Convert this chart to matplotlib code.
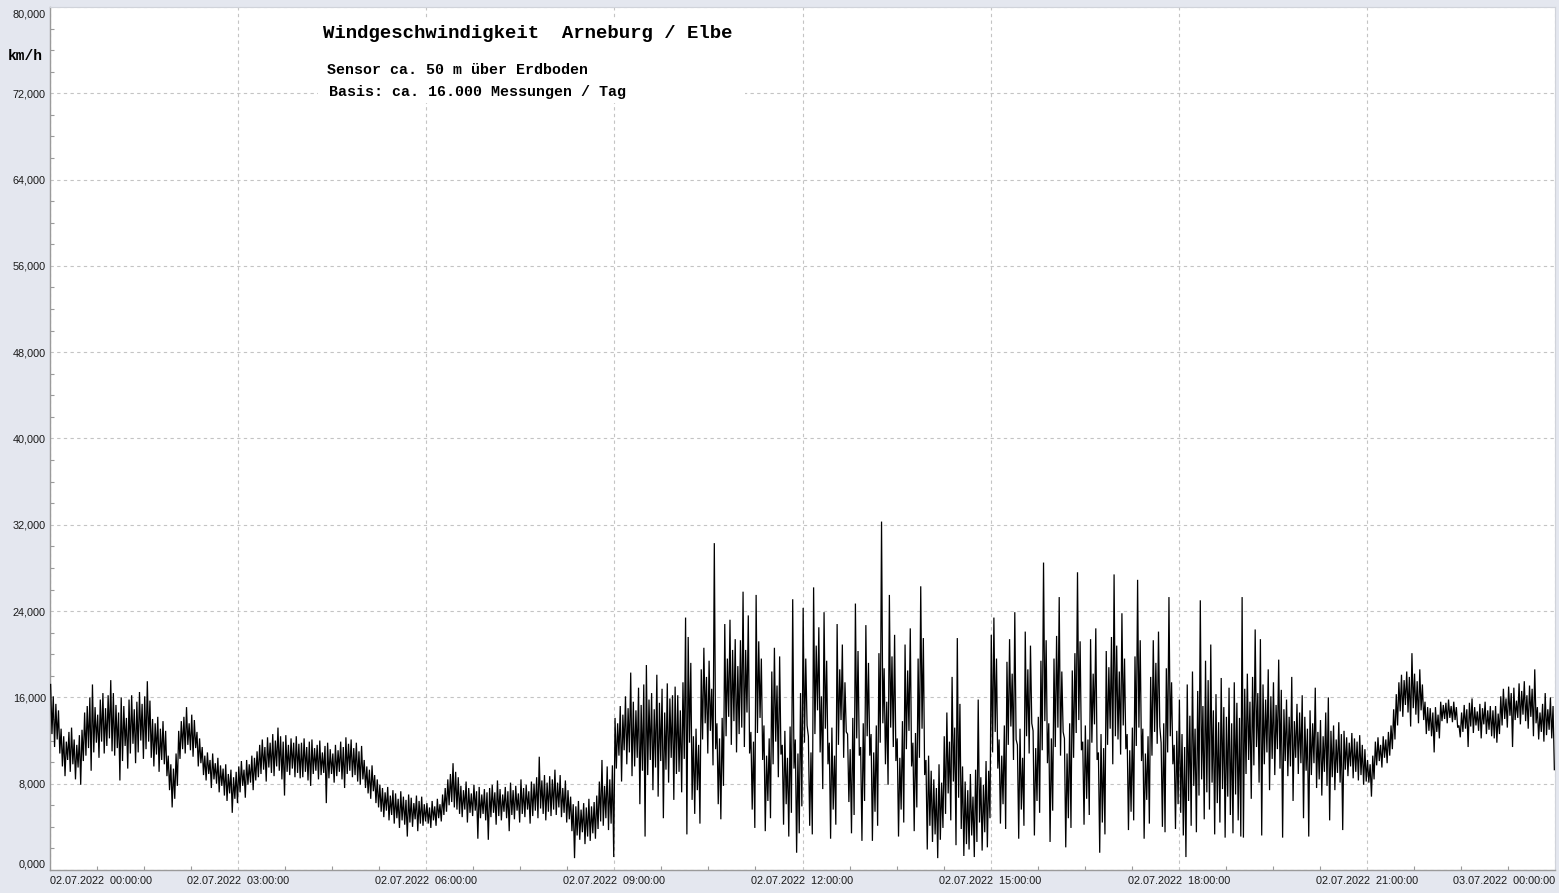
import numpy as np
import matplotlib
matplotlib.use("Agg")
import matplotlib.pyplot as plt
import matplotlib.transforms as mtransforms
from matplotlib.patches import Rectangle
from matplotlib.ticker import MultipleLocator

# Wind speed (km/h): one row per hour, 24 slots of 2.5 minutes each.
# For every slot the highest and the lowest reading.
peaks = [
    [17.2, 16.1, 15.4, 14.8, 13.1, 12.4, 11.9, 12.8, 13.2, 12.1, 11.6, 12.5, 13.0, 14.6, 15.2, 16.0, 17.2, 15.1, 14.4, 15.8, 16.4, 15.0, 16.2, 17.6],  # 00
    [16.4, 15.3, 14.6, 16.0, 15.2, 14.1, 15.8, 16.2, 14.9, 15.6, 16.5, 15.4, 16.1, 17.5, 15.7, 14.0, 13.6, 14.2, 13.1, 13.8, 12.9, 10.6, 9.8, 9.4],    # 01
    [10.8, 12.9, 13.8, 14.2, 15.1, 13.6, 14.4, 13.9, 12.8, 12.2, 11.4, 10.6, 10.9, 10.2, 10.8, 9.9, 10.4, 9.7, 9.4, 9.8, 8.9, 9.3, 8.6, 9.1],        # 02
    [9.6, 10.1, 9.3, 10.2, 9.8, 10.6, 10.4, 11.0, 11.6, 12.1, 11.4, 12.3, 11.8, 12.6, 12.0, 13.2, 12.4, 11.9, 12.5, 11.6, 12.2, 11.8, 12.4, 11.7],    # 03
    [11.8, 12.2, 11.4, 11.9, 12.1, 11.3, 11.6, 12.0, 10.9, 11.5, 11.8, 11.2, 10.8, 11.6, 11.1, 11.9, 11.4, 12.3, 11.7, 12.1, 11.3, 11.8, 11.0, 11.5],  # 04
    [10.2, 9.6, 9.3, 9.7, 8.8, 8.4, 7.9, 7.6, 7.2, 7.7, 6.9, 7.4, 7.1, 6.6, 7.3, 6.8, 6.5, 7.0, 6.7, 6.2, 6.9, 6.4, 6.8, 6.1],                         # 05
    [6.2, 5.8, 6.4, 5.9, 6.6, 6.1, 7.0, 7.6, 8.4, 8.9, 9.9, 9.1, 8.6, 7.8, 7.4, 8.2, 7.6, 7.1, 7.9, 7.3, 7.7, 7.0, 7.5, 7.2],                          # 06
    [7.6, 7.9, 7.2, 8.3, 7.5, 7.0, 7.7, 7.3, 8.1, 7.4, 7.8, 7.1, 8.4, 7.6, 7.9, 7.3, 8.2, 8.0, 8.6, 10.5, 8.3, 8.8, 8.1, 8.7],                         # 07
    [8.4, 9.3, 8.1, 8.8, 7.6, 8.3, 7.4, 6.8, 6.1, 5.9, 6.4, 5.6, 6.2, 5.8, 6.6, 5.9, 6.3, 6.9, 8.2, 10.2, 7.8, 9.6, 8.4, 9.7],                         # 08
    [14.1, 13.6, 15.2, 14.4, 16.1, 15.0, 18.3, 15.6, 14.8, 16.9, 15.3, 17.2, 19.0, 15.8, 16.4, 14.9, 18.1, 15.5, 16.8, 14.6, 17.3, 15.9, 16.2, 17.0],  # 09
    [16.2, 14.8, 17.4, 23.4, 21.6, 19.2, 12.4, 13.1, 11.6, 18.6, 20.6, 17.9, 19.4, 16.8, 30.3, 13.6, 12.2, 14.1, 22.8, 19.6, 23.2, 20.4, 21.4, 18.9],  # 10
    [21.3, 25.8, 20.4, 23.6, 12.8, 11.9, 25.5, 21.2, 19.6, 13.4, 10.6, 12.2, 18.4, 20.6, 17.1, 19.8, 11.6, 12.9, 10.4, 13.3, 25.1, 12.1, 10.8, 16.4],  # 11
    [24.3, 19.6, 12.4, 10.9, 26.2, 20.8, 22.5, 16.1, 23.9, 19.4, 11.8, 13.2, 10.6, 22.8, 18.6, 20.9, 17.4, 12.6, 11.2, 14.1, 24.7, 20.3, 11.4, 13.6],  # 12
    [22.7, 19.2, 12.6, 10.9, 13.4, 20.1, 32.3, 18.7, 15.6, 25.5, 19.8, 21.8, 12.2, 10.4, 13.8, 20.9, 18.5, 22.4, 11.8, 12.7, 19.6, 26.3, 21.5, 10.2],  # 13
    [10.6, 9.2, 8.4, 7.6, 9.8, 8.1, 12.4, 14.6, 11.9, 17.9, 13.2, 21.5, 15.4, 9.6, 8.2, 7.4, 8.9, 6.8, 9.3, 15.8, 8.6, 7.9, 10.1, 9.2],               # 14
    [21.8, 23.4, 19.6, 12.1, 10.6, 13.4, 19.3, 21.4, 18.2, 23.9, 11.6, 13.1, 10.4, 22.1, 18.6, 20.8, 12.9, 11.3, 14.2, 19.4, 28.5, 21.3, 13.6, 12.2],  # 15
    [19.6, 21.7, 25.3, 18.4, 12.2, 10.8, 13.6, 18.5, 20.1, 27.6, 21.2, 11.9, 13.4, 12.1, 21.4, 18.2, 22.4, 10.9, 12.6, 11.3, 20.3, 18.8, 21.6, 27.4],  # 16
    [20.8, 18.4, 23.8, 19.6, 12.6, 11.1, 13.2, 19.8, 26.9, 21.3, 13.1, 10.8, 12.4, 17.9, 21.3, 19.2, 22.1, 11.8, 13.6, 18.7, 25.3, 17.4, 11.6, 12.9],  # 17
    [15.8, 12.6, 11.4, 17.2, 14.3, 18.4, 13.1, 16.6, 25.0, 15.2, 19.4, 17.6, 20.9, 14.8, 16.3, 13.7, 17.8, 15.1, 14.2, 16.9, 13.6, 17.4, 15.5, 14.1],  # 18
    [25.3, 16.8, 18.2, 15.6, 17.9, 22.3, 16.4, 21.4, 17.2, 15.8, 18.6, 16.1, 17.4, 15.3, 19.5, 16.7, 14.9, 15.8, 14.2, 17.9, 13.8, 15.4, 14.6, 16.2],  # 19
    [14.2, 13.1, 14.8, 13.6, 16.9, 12.8, 13.9, 12.4, 14.6, 16.0, 12.9, 13.4, 12.1, 13.7, 12.6, 12.9, 12.3, 11.8, 12.7, 12.2, 11.9, 12.5, 11.6, 11.2],  # 20
    [10.2, 9.8, 10.6, 11.9, 12.3, 11.6, 12.4, 12.1, 12.8, 13.4, 14.9, 16.3, 17.4, 18.1, 17.6, 18.4, 17.9, 20.1, 18.2, 17.5, 18.6, 17.2, 15.6, 15.1],  # 21
    [15.0, 14.6, 15.1, 14.4, 15.6, 15.3, 15.5, 15.8, 15.2, 15.6, 15.1, 13.4, 14.6, 15.3, 14.9, 15.5, 15.9, 15.1, 14.7, 15.4, 15.0, 15.6, 14.8, 15.2],  # 22
    [14.8, 15.2, 14.5, 16.1, 16.8, 15.9, 17.0, 16.4, 16.9, 15.7, 17.3, 16.6, 17.5, 16.2, 17.1, 16.8, 18.6, 15.1, 14.6, 15.4, 16.4, 14.9, 16.0, 15.2],  # 23
]
troughs = [
    [12.6, 11.4, 12.1, 10.8, 9.6, 8.7, 10.2, 9.1, 9.8, 8.4, 9.5, 7.9, 10.1, 10.6, 11.3, 9.2, 10.9, 11.8, 10.4, 11.9, 10.8, 11.5, 12.2, 11.0],          # 00
    [10.6, 11.3, 8.3, 10.1, 11.5, 9.4, 10.8, 11.7, 9.9, 10.9, 12.0, 10.3, 11.2, 11.9, 10.4, 9.6, 10.7, 9.1, 10.2, 9.8, 8.7, 7.4, 5.8, 6.6],           # 01
    [7.8, 10.3, 11.2, 10.8, 11.6, 11.1, 10.5, 11.3, 9.6, 9.9, 8.8, 8.3, 8.9, 7.6, 8.4, 8.0, 7.2, 7.8, 6.9, 6.4, 7.1, 5.3, 6.6, 6.2],                  # 02
    [7.2, 7.8, 6.7, 7.9, 8.1, 7.4, 8.3, 8.6, 8.9, 9.3, 8.2, 9.5, 9.0, 8.7, 9.6, 9.2, 8.4, 6.9, 9.1, 8.8, 9.4, 8.6, 9.0, 8.5],                          # 03
    [8.6, 9.1, 8.3, 7.8, 8.9, 9.2, 8.4, 8.8, 9.0, 6.2, 8.5, 8.9, 8.1, 8.7, 9.1, 8.4, 7.6, 8.9, 9.2, 8.6, 8.8, 8.2, 7.9, 8.4],                          # 04
    [7.6, 7.1, 6.6, 7.3, 6.2, 5.8, 5.4, 4.9, 5.5, 4.6, 5.1, 4.3, 4.8, 3.9, 4.6, 4.2, 3.1, 4.4, 4.0, 4.7, 3.6, 4.3, 4.1, 4.5],                          # 05
    [4.3, 3.9, 4.6, 4.1, 4.8, 4.5, 5.1, 5.4, 6.0, 6.3, 5.8, 5.6, 5.2, 4.9, 5.6, 4.4, 5.3, 5.0, 5.5, 2.9, 4.8, 5.2, 4.6, 2.8],                          # 06
    [4.9, 5.3, 4.2, 5.0, 4.6, 5.4, 4.8, 3.6, 5.1, 4.7, 5.5, 4.4, 5.2, 4.9, 5.6, 4.3, 5.0, 5.5, 4.8, 5.7, 5.2, 4.6, 5.4, 5.0],                          # 07
    [5.6, 5.1, 5.8, 4.9, 5.3, 4.4, 4.7, 3.6, 1.1, 3.2, 2.8, 3.5, 2.4, 3.1, 2.7, 3.4, 2.9, 3.8, 4.5, 4.1, 4.8, 3.7, 4.3, 1.2],                          # 08
    [9.4, 10.6, 8.2, 11.1, 9.8, 10.9, 8.7, 9.6, 10.4, 6.1, 9.2, 3.1, 8.8, 10.2, 7.4, 9.5, 6.8, 10.1, 4.8, 9.3, 8.1, 10.4, 6.5, 8.9],                  # 09
    [9.1, 7.2, 10.3, 3.3, 11.8, 6.5, 5.2, 7.4, 4.3, 12.1, 13.6, 10.8, 12.9, 9.7, 11.2, 6.1, 4.7, 7.8, 12.4, 14.2, 11.6, 13.8, 10.9, 12.6],            # 10
    [13.2, 11.4, 14.6, 10.8, 5.6, 3.9, 12.7, 14.1, 10.2, 3.6, 6.4, 4.8, 9.8, 11.9, 8.6, 10.7, 4.2, 6.1, 3.1, 5.3, 9.4, 1.6, 3.4, 5.9],                # 11
    [11.8, 13.4, 4.1, 3.3, 12.6, 14.8, 10.9, 7.5, 13.1, 9.8, 2.9, 5.6, 4.2, 11.6, 13.9, 10.4, 12.8, 6.3, 3.4, 5.1, 12.2, 10.6, 2.7, 6.4],             # 12
    [12.4, 10.6, 2.7, 5.4, 4.1, 11.8, 13.6, 9.8, 7.9, 13.2, 11.4, 10.1, 3.1, 5.6, 4.4, 11.2, 12.9, 9.6, 3.6, 5.8, 10.4, 13.1, 8.8, 1.9],              # 13
    [4.1, 2.6, 3.3, 1.1, 2.8, 3.9, 5.2, 7.1, 4.6, 8.2, 2.3, 6.7, 3.8, 1.3, 2.4, 1.9, 3.2, 1.2, 2.6, 4.4, 1.8, 3.5, 2.1, 4.8],                          # 14
    [10.9, 12.8, 9.4, 4.3, 6.1, 3.8, 11.6, 13.3, 10.2, 12.1, 2.9, 5.6, 4.1, 12.4, 10.8, 13.6, 3.2, 6.4, 5.3, 11.1, 13.8, 9.9, 2.6, 5.5],              # 15
    [11.4, 13.2, 10.6, 12.8, 2.1, 4.8, 3.9, 10.4, 12.7, 13.9, 11.1, 4.2, 6.6, 5.1, 11.8, 13.5, 10.2, 1.6, 4.4, 3.3, 11.6, 13.1, 9.8, 12.4],           # 16
    [12.1, 10.7, 13.4, 11.2, 3.7, 5.4, 4.6, 11.5, 13.2, 10.1, 2.9, 6.5, 4.3, 10.6, 12.8, 11.7, 13.3, 4.0, 3.5, 10.9, 12.4, 9.8, 3.8, 6.1],            # 17
    [5.3, 3.2, 1.2, 6.4, 4.1, 7.8, 3.5, 6.9, 8.4, 4.7, 7.2, 5.6, 8.1, 3.3, 6.2, 4.4, 7.5, 3.0, 6.8, 5.1, 3.4, 7.0, 4.6, 3.1],                         # 18
    [3.0, 8.9, 10.2, 6.6, 9.7, 11.4, 8.1, 3.2, 9.8, 10.9, 7.4, 10.3, 8.8, 11.2, 9.4, 3.0, 10.1, 8.7, 9.6, 6.4, 10.4, 8.9, 9.9, 4.8],                  # 19
    [9.2, 3.1, 8.8, 9.9, 7.6, 8.4, 6.9, 9.1, 7.8, 4.6, 8.6, 7.4, 9.0, 8.1, 3.7, 9.3, 8.7, 9.6, 8.5, 9.1, 8.3, 8.8, 7.9, 8.2],                          # 20
    [8.1, 6.8, 8.4, 9.7, 10.1, 9.5, 10.4, 9.9, 10.6, 11.2, 12.1, 13.4, 14.7, 14.2, 15.3, 14.6, 13.3, 15.0, 14.4, 13.6, 14.8, 13.9, 12.6, 12.9],       # 21
    [12.4, 10.9, 12.8, 12.2, 13.8, 14.0, 13.6, 14.1, 13.7, 13.9, 13.2, 12.3, 12.8, 13.1, 11.4, 13.3, 12.7, 13.4, 12.9, 12.2, 13.5, 12.6, 13.0, 12.4],  # 22
    [12.2, 11.8, 12.6, 13.4, 14.0, 13.2, 14.3, 11.4, 13.9, 14.1, 13.5, 14.4, 13.8, 13.1, 14.2, 12.4, 13.6, 12.1, 12.8, 11.9, 12.5, 13.0, 12.2, 9.3],   # 23
]

x_ticks = [0, 3, 6, 9, 12, 15, 18, 21, 24]
x_labels = ["02.07.2022  00:00:00", "02.07.2022  03:00:00", "02.07.2022  06:00:00",
            "02.07.2022  09:00:00", "02.07.2022  12:00:00", "02.07.2022  15:00:00",
            "02.07.2022  18:00:00", "02.07.2022  21:00:00", "03.07.2022  00:00:00"]
y_ticks = [0, 8, 16, 24, 32, 40, 48, 56, 64, 72, 80]
y_labels = ["0,000", "8,000", "16,000", "24,000", "32,000", "40,000",
            "48,000", "56,000", "64,000", "72,000", "80,000"]

title = "Windgeschwindigkeit  Arneburg / Elbe"
subtitle_1 = "Sensor ca. 50 m über Erdboden"
subtitle_2 = "Basis: ca. 16.000 Messungen / Tag"
unit = "km/h"

# one continuous series (hours since midnight): peak then trough within every slot
slots = len(peaks[0])
times, speeds = [], []
for h in range(24):
    for s in range(slots):
        times += [h + (s + 0.25) / slots, h + (s + 0.75) / slots]
        speeds += [peaks[h][s], troughs[h][s]]

BG = "#E4E7EF"
fig = plt.figure(figsize=(15.59, 8.93), dpi=100, facecolor=BG)
ax = fig.add_axes([50 / 1559, 23 / 893, 1505 / 1559, 863 / 893])
ax.set_facecolor("white")

ax.plot(times, speeds, color="black", lw=0.9, zorder=3, solid_joinstyle="miter")

ax.set_xlim(0, 24)
ax.set_ylim(0, 80)

tick_font = dict(family=["Liberation Sans", "DejaVu Sans"], size=7.8)
ax.set_xticks(x_ticks)
ax.set_xticklabels(x_labels, **tick_font, color="#1a1a1a")
ax.set_yticks(y_ticks)
ax.set_yticklabels(y_labels, **tick_font, color="#1a1a1a")
ax.xaxis.set_minor_locator(MultipleLocator(0.75))
ax.yaxis.set_minor_locator(MultipleLocator(2))
ax.tick_params(axis="both", which="both", direction="in", color="#9a9a9a")
ax.tick_params(axis="both", which="major", length=0)
ax.tick_params(axis="both", which="minor", length=3, width=0.8)
ax.tick_params(axis="y", which="major", pad=3)
ax.tick_params(axis="x", which="major", pad=4)

xl = ax.get_xticklabels()
xl[0].set_horizontalalignment("left")
xl[-1].set_horizontalalignment("right")
yl = ax.get_yticklabels()
yl[0].set_transform(yl[0].get_transform() + mtransforms.ScaledTranslation(0, 6.5 / 100, fig.dpi_scale_trans))
yl[-1].set_transform(yl[-1].get_transform() + mtransforms.ScaledTranslation(0, -6.5 / 100, fig.dpi_scale_trans))

ax.grid(True, which="major", color="#c4c4c4", ls=(0, (3, 3)), lw=0.8)
ax.set_axisbelow(True)

for side in ("left", "bottom"):
    ax.spines[side].set_color("#9a9a9a")
    ax.spines[side].set_linewidth(1.0)
for side in ("top", "right"):
    ax.spines[side].set_color("#d0d3da")
    ax.spines[side].set_linewidth(0.8)

# white panel behind the heading text
ax.add_patch(Rectangle((0.178, 0.889), 0.284, 0.098, transform=ax.transAxes,
                       facecolor="white", edgecolor="none", zorder=1))

mono = ["Liberation Mono", "DejaVu Sans Mono"]
fig.text(323 / 1559, 1 - 33 / 893, title, family=mono, weight="bold", size=13.7,
         va="center", ha="left", color="black")
fig.text(327 / 1559, 1 - 70 / 893, subtitle_1, family=mono, weight="bold", size=10.8,
         va="center", ha="left", color="black")
fig.text(329 / 1559, 1 - 92 / 893, subtitle_2, family=mono, weight="bold", size=10.8,
         va="center", ha="left", color="black")
fig.text(8 / 1559, 1 - 56 / 893, unit, family=mono, weight="bold", size=10.5,
         va="center", ha="left", color="black")

fig.savefig("out.png", dpi=100, facecolor=BG)
